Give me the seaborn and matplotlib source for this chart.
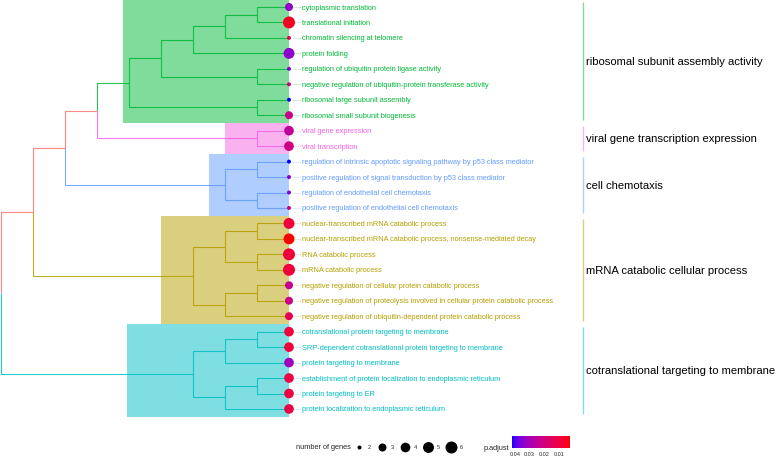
import numpy as np
import pandas as pd
import matplotlib
matplotlib.use("Agg")
import matplotlib.pyplot as plt
from matplotlib.colors import ListedColormap, Normalize
from matplotlib.lines import Line2D
from matplotlib.patches import Rectangle
import matplotlib.cm as cm
import seaborn as sns

# ---------------- data ----------------
terms = [
    "cytoplasmic translation",
    "translational initiation",
    "chromatin silencing at telomere",
    "protein folding",
    "regulation of ubiquitin protein ligase activity",
    "negative regulation of ubiquitin-protein transferase activity",
    "ribosomal large subunit assembly",
    "ribosomal small subunit biogenesis",
    "viral gene expression",
    "viral transcription",
    "regulation of intrinsic apoptotic signaling pathway by p53 class mediator",
    "positive regulation of signal transduction by p53 class mediator",
    "regulation of endothelial cell chemotaxis",
    "positive regulation of endothelial cell chemotaxis",
    "nuclear-transcribed mRNA catabolic process",
    "nuclear-transcribed mRNA catabolic process, nonsense-mediated decay",
    "RNA catabolic process",
    "mRNA catabolic process",
    "negative regulation of cellular protein catabolic process",
    "negative regulation of proteolysis involved in cellular protein catabolic process",
    "negative regulation of ubiquitin-dependent protein catabolic process",
    "cotranslational protein targeting to membrane",
    "SRP-dependent cotranslational protein targeting to membrane",
    "protein targeting to membrane",
    "establishment of protein localization to endoplasmic reticulum",
    "protein targeting to ER",
    "protein localization to endoplasmic reticulum",
]
gene_counts = [3, 6, 2, 5, 2, 2, 2, 3, 4, 4, 2, 2, 2, 2,
               5, 5, 6, 6, 3, 3, 3, 4, 4, 4, 4, 4, 4]
p_adjust = [0.033, 0.006, 0.013, 0.034, 0.035, 0.020, 0.042, 0.022, 0.025, 0.021,
            0.042, 0.035, 0.035, 0.020, 0.009, 0.0025, 0.009, 0.009, 0.024, 0.022,
            0.013, 0.009, 0.009, 0.031, 0.010, 0.010, 0.011]
cluster_names = [
    "ribosomal subunit assembly activity",
    "viral gene transcription expression",
    "cell chemotaxis",
    "mRNA catabolic cellular process",
    "cotranslational targeting to membrane",
]
term_cluster = [0] * 8 + [1] * 2 + [2] * 4 + [3] * 7 + [4] * 6
# dendrogram topology (leaf indices)
tree = (((((((((0, 1), 2), 3), (4, 5)), (6, 7)), (8, 9)),
          ((10, 11), (12, 13))),
         (((14, 15), (16, 17)), ((18, 19), 20))),
        (((21, 22), 23), ((24, 25), 26)))
size_breaks = [2, 3, 4, 5, 6]
cbar_ticks = [0.04, 0.03, 0.02, 0.01]

# ---------------- style ----------------
root_color = "#F8766D"
cluster_colors = ["#00BA38", "#F564E3", "#619CFF", "#B79F00", "#00BFC4"]
hilight_left = [3.81, 7.0, 6.5, 5.0, 3.94]   # left edge of highlight boxes (tree level units)
PX_X, PX_Y = 32.0, 15.46                       # pixels per tree level / per leaf
X0, Y0 = 1.0, 8.0
W, H = 777, 460
font = ["Liberation Sans", "DejaVu Sans"]

sns.set_style("white")
plt.rcParams["font.family"] = font

# colour scale: red (low) -> blue (high), interpolated in Lab like ggplot2
def srgb2lab(c):
    c = np.asarray(c, float)
    lin = np.where(c <= 0.04045, c / 12.92, ((c + 0.055) / 1.055) ** 2.4)
    M = np.array([[0.4124, 0.3576, 0.1805], [0.2126, 0.7152, 0.0722], [0.0193, 0.1192, 0.9505]])
    t = (M @ lin) / np.array([0.95047, 1.0, 1.08883])
    d = 6 / 29
    f = np.where(t > d ** 3, np.cbrt(t), t / (3 * d * d) + 4 / 29)
    return np.array([116 * f[1] - 16, 500 * (f[0] - f[1]), 200 * (f[1] - f[2])])

def lab2srgb(lab):
    L, a, b = lab
    fy = (L + 16) / 116
    fx = fy + a / 500
    fz = fy - b / 200
    d = 6 / 29
    f = np.array([fx, fy, fz])
    t = np.where(f > d, f ** 3, 3 * d * d * (f - 4 / 29)) * np.array([0.95047, 1.0, 1.08883])
    Minv = np.linalg.inv(np.array([[0.4124, 0.3576, 0.1805], [0.2126, 0.7152, 0.0722], [0.0193, 0.1192, 0.9505]]))
    lin = np.clip(Minv @ t, 0, 1)
    return np.clip(np.where(lin <= 0.0031308, 12.92 * lin, 1.055 * lin ** (1 / 2.4) - 0.055), 0, 1)

lab_r, lab_b = srgb2lab([1, 0, 0]), srgb2lab([0, 0, 1])
cmap = ListedColormap([lab2srgb(lab_r + (lab_b - lab_r) * t) for t in np.linspace(0, 1, 256)])
norm = Normalize(vmin=min(p_adjust), vmax=max(p_adjust))

def diam_px(c):
    lo, hi = min(size_breaks), max(size_breaks)
    return 4 + np.sqrt((c - lo) / (hi - lo)) * 8

size_map = {c: (diam_px(c) * 0.72) ** 2 for c in size_breaks}

# ---------------- tree layout ----------------
nodes = []

def layout(n):
    if isinstance(n, int):
        nodes.append({"h": 0, "y": float(n), "leaves": {n}, "kids": []})
        return len(nodes) - 1
    kids = [layout(k) for k in n]
    h = 1 + max(nodes[k]["h"] for k in kids)
    y = np.mean([nodes[k]["y"] for k in kids])
    leaves = set().union(*[nodes[k]["leaves"] for k in kids])
    nodes.append({"h": h, "y": y, "leaves": leaves, "kids": kids})
    return len(nodes) - 1

root = layout(tree)
max_h = nodes[root]["h"]
for nd in nodes:
    nd["x"] = max_h - nd["h"]
    cl = {term_cluster[i] for i in nd["leaves"]}
    nd["color"] = cluster_colors[cl.pop()] if len(cl) == 1 else root_color

fig = plt.figure(figsize=(W / 100, H / 100), dpi=100)
ax = fig.add_axes([0, 0, 1, 1])
ax.set_xlim((0 - X0) / PX_X, (W - X0) / PX_X)
ax.set_ylim((H - Y0) / PX_Y, (0 - Y0) / PX_Y)
ax.axis("off")

for nd in nodes:
    for k in nd["kids"]:
        ch = nodes[k]
        ax.plot([nd["x"], nd["x"], ch["x"]], [nd["y"], ch["y"], ch["y"]],
                color=ch["color"], lw=0.8, solid_capstyle="butt", zorder=1, alpha=0.85)

# highlight boxes
for ci, col in enumerate(cluster_colors):
    idx = [i for i, c in enumerate(term_cluster) if c == ci]
    ax.add_patch(Rectangle((hilight_left[ci], min(idx) - 0.5), max_h - hilight_left[ci],
                           max(idx) - min(idx) + 1, facecolor=col, alpha=0.5,
                           edgecolor="none", zorder=2))

df = pd.DataFrame({"term": terms, "count": gene_counts, "p.adjust": p_adjust,
                   "y": np.arange(len(terms), dtype=float),
                   "x": float(max_h)})
sns.scatterplot(data=df, x="x", y="y", hue="p.adjust", palette=cmap, hue_norm=norm,
                size="count", sizes=size_map, linewidth=0, legend=False, ax=ax, zorder=4)
ax.axis("off")

# tip labels with dotted guide lines
lab_x = max_h + 13 / PX_X
for i, t in enumerate(terms):
    col = cluster_colors[term_cluster[i]]
    ax.plot([max_h + 4 / PX_X, lab_x - 1 / PX_X], [i, i], ls=(0, (1, 1.5)), lw=0.6,
            color=col, alpha=0.6, zorder=3)
    ax.text(lab_x, i, t, color=col, fontsize=5.3, va="center", ha="left", zorder=5)

# cluster strips and labels
strip_x = (583 - X0) / PX_X
for ci, name in enumerate(cluster_names):
    idx = [i for i, c in enumerate(term_cluster) if c == ci]
    ax.plot([strip_x, strip_x], [min(idx) - 0.3, max(idx) + 0.3], color=cluster_colors[ci],
            alpha=0.5, lw=1.0, solid_capstyle="butt")
    ax.text(strip_x + 3 / PX_X, (min(idx) + max(idx)) / 2, name, fontsize=8.1,
            va="center", ha="left", color="black")

# size legend
fig.text(351 / W, 1 - 448 / H, "number of genes", fontsize=5.3, ha="right", va="center")
handles = [Line2D([], [], marker="o", ls="", color="black", markeredgewidth=0,
                  markersize=diam_px(c) * 0.72) for c in size_breaks]
fig.legend(handles, [str(c) for c in size_breaks], ncol=5, loc="center left",
           bbox_to_anchor=(353 / W, 1 - 448 / H), frameon=False, fontsize=4,
           handletextpad=0.4, columnspacing=1.0, handlelength=2.2, borderpad=0,
           borderaxespad=0)

# colour bar
fig.text(509 / W, 1 - 449 / H, "p.adjust", fontsize=5.3, ha="right", va="center")
cax = fig.add_axes([512 / W, 1 - 449 / H, 58 / W, 12 / H])
sm = cm.ScalarMappable(norm=norm, cmap=cmap)
cb = fig.colorbar(sm, cax=cax, orientation="horizontal")
cax.invert_xaxis()
cb.set_ticks(cbar_ticks)
cb.set_ticklabels([f"{t:.2f}" for t in cbar_ticks])
cb.outline.set_visible(False)
cax.tick_params(labelsize=4, direction="in", color="white", length=2, width=0.5, pad=2)

fig.savefig("out.png", dpi=100)
